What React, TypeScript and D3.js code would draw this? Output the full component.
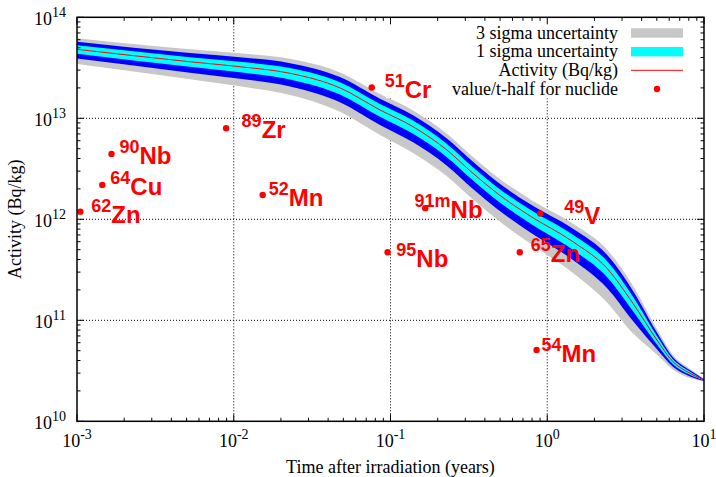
import React from "react";
import * as d3 from "d3";

// Time after irradiation (years)
const times = [0.001, 0.00526, 0.01096, 0.02286, 0.0476, 0.0857, 0.1393, 0.229, 0.336, 0.479, 0.776, 1.459, 2.404, 3.524, 5.01, 6.34, 8.15, 10];
// Activity (Bq/kg)
const activity = [4.82e13, 3.63e13, 3.24e13, 2.79e13, 2.0e13, 1.21e13, 8.26e12, 4.85e12, 2.85e12, 1.81e12, 1.08e12, 6.0e11, 3.27e11, 1.47e11, 6.38e10, 3.89e10, 2.99e10, 2.56e10];
// relative 1-sigma uncertainty
const sigma = [0.095, 0.11, 0.12, 0.13, 0.14, 0.145, 0.15, 0.15, 0.15, 0.15, 0.155, 0.17, 0.18, 0.165, 0.095, 0.055, 0.035, 0.01];

// nuclides: value at half-life
const nucMass = ["62", "64", "90", "89", "52", "51", "95", "91m", "65", "54", "49"];
const nucSymbol = ["Zn", "Cu", "Nb", "Zr", "Mn", "Cr", "Nb", "Nb", "Zn", "Mn", "V"];
const nucHalfLife = [0.00105, 0.00145, 0.00166, 0.00894, 0.0153, 0.0759, 0.0958, 0.1666, 0.668, 0.855, 0.903];
const nucValue = [1.19e12, 2.19e12, 4.44e12, 7.96e12, 1.74e12, 2.02e13, 4.71e11, 1.29e12, 4.71e11, 5.08e10, 1.14e12];
// label offsets (px) relative to the point
const labelDx = [11, 8, 8, 15.5, 6, 13, 8.7, -10.7, 11, 5, 24];
const labelDy = [11, 10, 10, 10, 11, 11, 14.5, 10, 9.5, 12, 10];

const xTickExp = [-3, -2, -1, 0, 1];
const yTickExp = [10, 11, 12, 13, 14];

const legendLabels = ["3 sigma uncertainty", "1 sigma uncertainty", "Activity (Bq/kg)", "value/t-half for nuclide"];

const W = 716, H = 477;
const L = 77, R = 704, T = 17.3, B = 421.3;

export default function App() {
  const x = d3.scaleLog().domain([1e-3, 10]).range([L, R]);
  const y = d3.scaleLog().domain([1e10, 1e14]).range([B, T]);

  const idx = d3.range(times.length);
  const band = (k: number) =>
    d3
      .area<number>()
      .x((i) => x(times[i]))
      .y0((i) => y(activity[i] * (1 - k * sigma[i])))
      .y1((i) => y(activity[i] * (1 + k * sigma[i])))
      .curve(d3.curveMonotoneX)(idx) || "";
  const line =
    d3
      .line<number>()
      .x((i) => x(times[i]))
      .y((i) => y(activity[i]))
      .curve(d3.curveMonotoneX)(idx) || "";

  const xTicks = x.ticks();
  const yTicks = y.ticks();
  const isMajor = (v: number) => Math.abs(Math.log10(v) - Math.round(Math.log10(v))) < 1e-6;

  const serif = "'Liberation Serif', 'Times New Roman', serif";
  const sans = "'Liberation Sans', Arial, sans-serif";

  const legendY = [33, 51.7, 70.3, 89];

  return (
    <svg width={W} height={H} style={{ position: "absolute", left: 0, top: 0, background: "#fff" }}>
      <rect x={0} y={0} width={W} height={H} fill="#fff" />
      {/* grid */}
      <g stroke="#000" strokeWidth={1} strokeDasharray="1,2">
        {xTickExp.slice(1, -1).map((e) => (
          <line key={"gx" + e} x1={x(Math.pow(10, e))} x2={x(Math.pow(10, e))} y1={T} y2={B} />
        ))}
        {yTickExp.slice(1, -1).map((e) => (
          <line key={"gy" + e} x1={L} x2={R} y1={y(Math.pow(10, e))} y2={y(Math.pow(10, e))} />
        ))}
      </g>
      {/* bands */}
      <path d={band(3)} fill="#c8c8c8" />
      <path d={band(2)} fill="#0000ff" />
      <path d={band(1)} fill="#00ffff" />
      <path d={line} fill="none" stroke="#ff0000" strokeWidth={1} />

      {/* key */}
      <rect x={386} y={T + 1} width={R - 387} height={80} fill="#fff" />
      <g fontFamily={serif} fontSize={18} fill="#000">
        {legendLabels.map((t, i) => (
          <text key={t} x={618} y={legendY[i] + 5.5} textAnchor="end">
            {t}
          </text>
        ))}
      </g>
      <rect x={631} y={legendY[0] - 4.7} width={52} height={9.4} fill="#c8c8c8" />
      <rect x={631} y={legendY[1] - 4.7} width={52} height={9.4} fill="#00ffff" />
      <line x1={631} x2={683} y1={legendY[2]} y2={legendY[2]} stroke="#ff0000" strokeWidth={1} />
      <circle cx={657} cy={legendY[3]} r={3.2} fill="#ff0000" />

      {/* nuclide points and labels */}
      {nucMass.map((m, i) => {
        const px = x(nucHalfLife[i]);
        const py = y(nucValue[i]);
        return (
          <g key={"n" + i}>
            <circle cx={px} cy={py} r={3.2} fill="#ff0000" />
            <text x={px + labelDx[i]} y={py + labelDy[i]} fontFamily={sans} fontWeight="bold" fill="#ff0000" fontSize={24}>
              <tspan fontSize={18} dy={-11}>{m}</tspan>
              <tspan dy={11}>{nucSymbol[i]}</tspan>
            </text>
          </g>
        );
      })}

      {/* frame and ticks */}
      <g stroke="#000" strokeWidth={1}>
        {xTicks.map((v, i) => {
          const len = isMajor(v) ? 7 : 3.5;
          const xx = x(v);
          return (
            <g key={"xt" + i}>
              <line x1={xx} x2={xx} y1={B} y2={B - len} />
              <line x1={xx} x2={xx} y1={T} y2={T + len} />
            </g>
          );
        })}
        {yTicks.map((v, i) => {
          const len = isMajor(v) ? 7 : 3.5;
          const yy = y(v);
          return (
            <g key={"yt" + i}>
              <line x1={L} x2={L + len} y1={yy} y2={yy} />
              <line x1={R} x2={R - len} y1={yy} y2={yy} />
            </g>
          );
        })}
      </g>
      <rect x={L} y={T} width={R - L} height={B - T} fill="none" stroke="#000" strokeWidth={1.5} />

      {/* tick labels */}
      <g fontFamily={serif} fontSize={18} fill="#000">
        {xTickExp.map((e) => (
          <text key={"xl" + e} x={x(Math.pow(10, e))} y={446.5} textAnchor="middle">
            10<tspan fontSize={14} dy={-8}>{String(e)}</tspan>
          </text>
        ))}
        {yTickExp.map((e) => (
          <text key={"yl" + e} x={66} y={y(Math.pow(10, e)) + 7.5} textAnchor="end">
            10<tspan fontSize={14} dy={-8}>{String(e)}</tspan>
          </text>
        ))}
        <text x={(L + R) / 2} y={472.5} textAnchor="middle">
          Time after irradiation (years)
        </text>
        <text transform={`translate(21, ${(T + B) / 2}) rotate(-90)`} textAnchor="middle">
          Activity (Bq/kg)
        </text>
      </g>
    </svg>
  );
}
